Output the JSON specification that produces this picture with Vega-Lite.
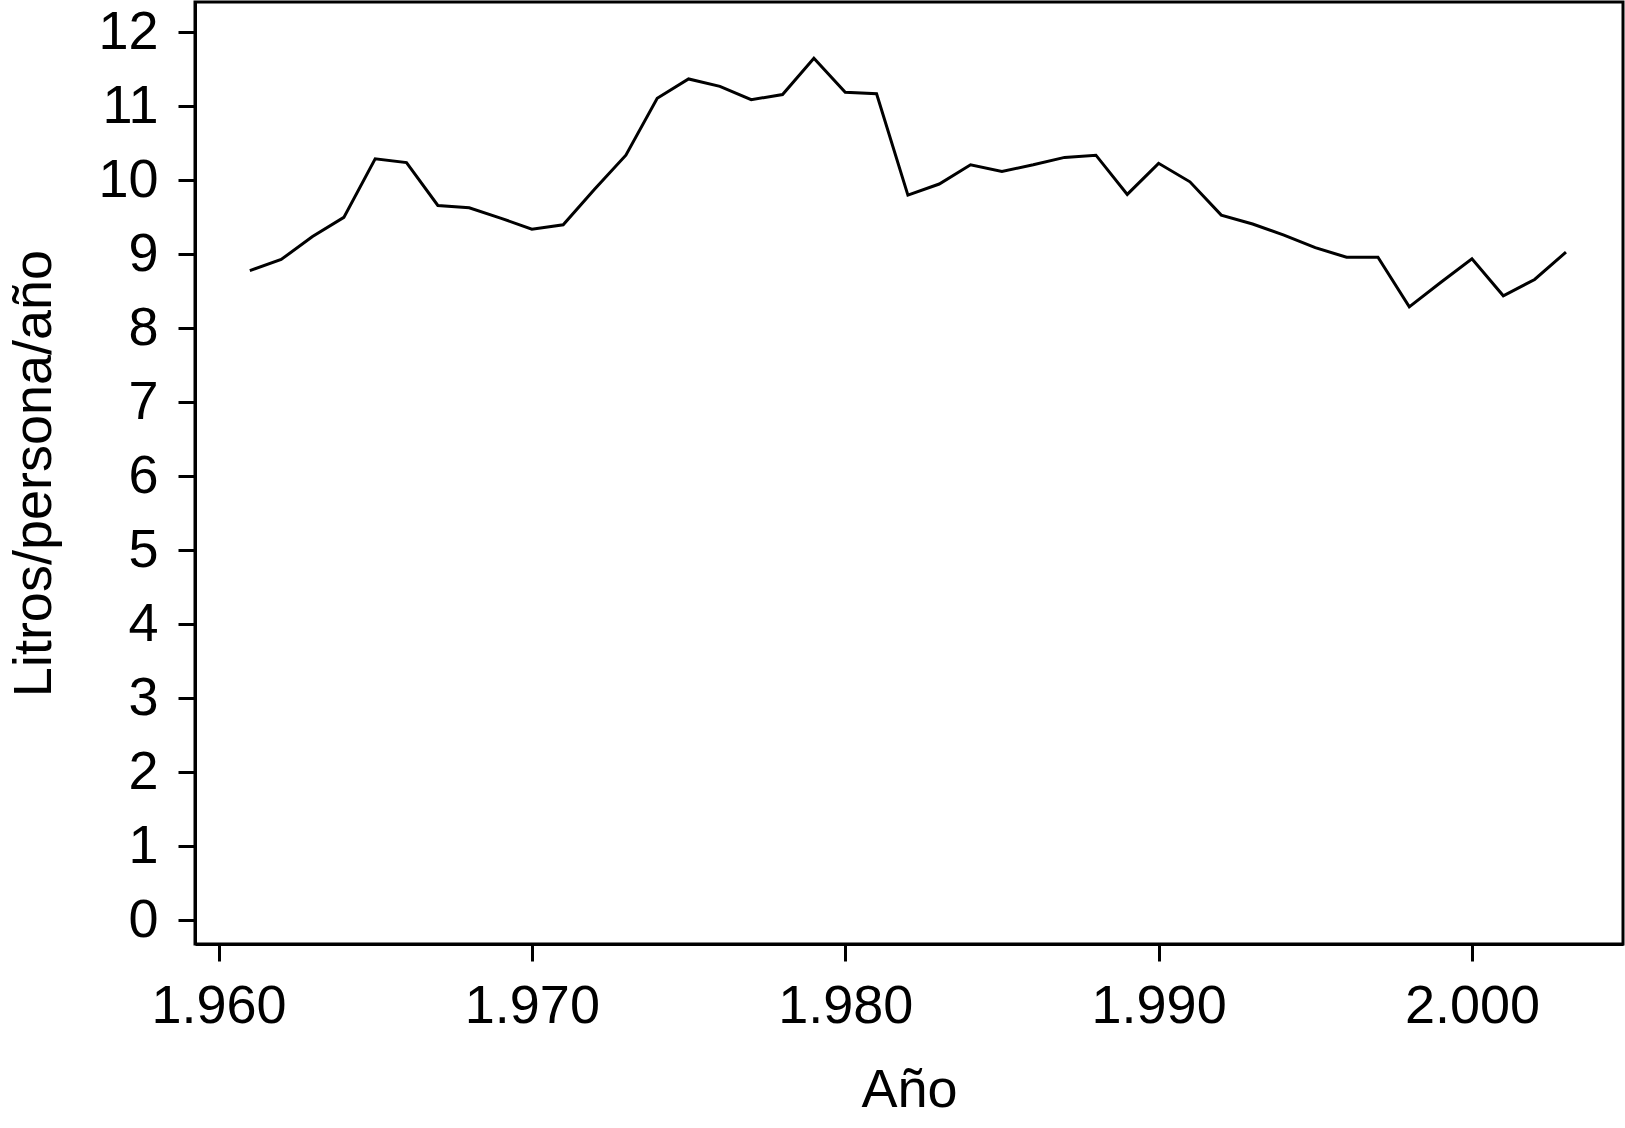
{
  "$schema": "https://vega.github.io/schema/vega-lite/v6.json",
  "autosize": "none",
  "width": 1428,
  "height": 942,
  "padding": {"left": 195, "top": 2, "right": 3, "bottom": 184},
  "background": "white",
  "config": {
    "view": {"stroke": "black", "strokeWidth": 3},
    "font": "Liberation Sans",
    "axis": {
      "domainColor": "black",
      "domainWidth": 3,
      "tickColor": "black",
      "tickWidth": 3,
      "tickSize": 17,
      "labelFont": "Liberation Sans",
      "labelFontSize": 54,
      "labelColor": "black",
      "titleFont": "Liberation Sans",
      "titleFontSize": 54,
      "titleFontWeight": "normal",
      "titleColor": "black",
      "grid": false
    }
  },
  "data": {
    "values": [
      {"year": 1961, "value": 8.78},
      {"year": 1962, "value": 8.93},
      {"year": 1963, "value": 9.24},
      {"year": 1964, "value": 9.50},
      {"year": 1965, "value": 10.29},
      {"year": 1966, "value": 10.24},
      {"year": 1967, "value": 9.66},
      {"year": 1968, "value": 9.63},
      {"year": 1969, "value": 9.49},
      {"year": 1970, "value": 9.34},
      {"year": 1971, "value": 9.40},
      {"year": 1972, "value": 9.88},
      {"year": 1973, "value": 10.34},
      {"year": 1974, "value": 11.11},
      {"year": 1975, "value": 11.37},
      {"year": 1976, "value": 11.27},
      {"year": 1977, "value": 11.09},
      {"year": 1978, "value": 11.16},
      {"year": 1979, "value": 11.65},
      {"year": 1980, "value": 11.19},
      {"year": 1981, "value": 11.17},
      {"year": 1982, "value": 9.80},
      {"year": 1983, "value": 9.95},
      {"year": 1984, "value": 10.21},
      {"year": 1985, "value": 10.12},
      {"year": 1986, "value": 10.21},
      {"year": 1987, "value": 10.31},
      {"year": 1988, "value": 10.34},
      {"year": 1989, "value": 9.81},
      {"year": 1990, "value": 10.23},
      {"year": 1991, "value": 9.98},
      {"year": 1992, "value": 9.53},
      {"year": 1993, "value": 9.41},
      {"year": 1994, "value": 9.26},
      {"year": 1995, "value": 9.09},
      {"year": 1996, "value": 8.96},
      {"year": 1997, "value": 8.96},
      {"year": 1998, "value": 8.29},
      {"year": 1999, "value": 8.62},
      {"year": 2000, "value": 8.94},
      {"year": 2001, "value": 8.44},
      {"year": 2002, "value": 8.66},
      {"year": 2003, "value": 9.03}
    ]
  },
  "mark": {"type": "line", "color": "black", "strokeWidth": 3},
  "encoding": {
    "x": {
      "field": "year",
      "type": "quantitative",
      "scale": {"domain": [1959.25, 2004.82], "nice": false, "zero": false},
      "axis": {
        "title": "Año",
        "values": [1960, 1970, 1980, 1990, 2000],
        "labelExpr": "replace(format(datum.value, ','), ',', '.')",
        "labelPadding": 18,
        "titlePadding": 30
      }
    },
    "y": {
      "field": "value",
      "type": "quantitative",
      "scale": {"domain": [-0.32, 12.41], "nice": false, "zero": false},
      "axis": {
        "title": "Litros/persona/año",
        "values": [0, 1, 2, 3, 4, 5, 6, 7, 8, 9, 10, 11, 12],
        "labelPadding": 20,
        "titlePadding": 36
      }
    }
  }
}
